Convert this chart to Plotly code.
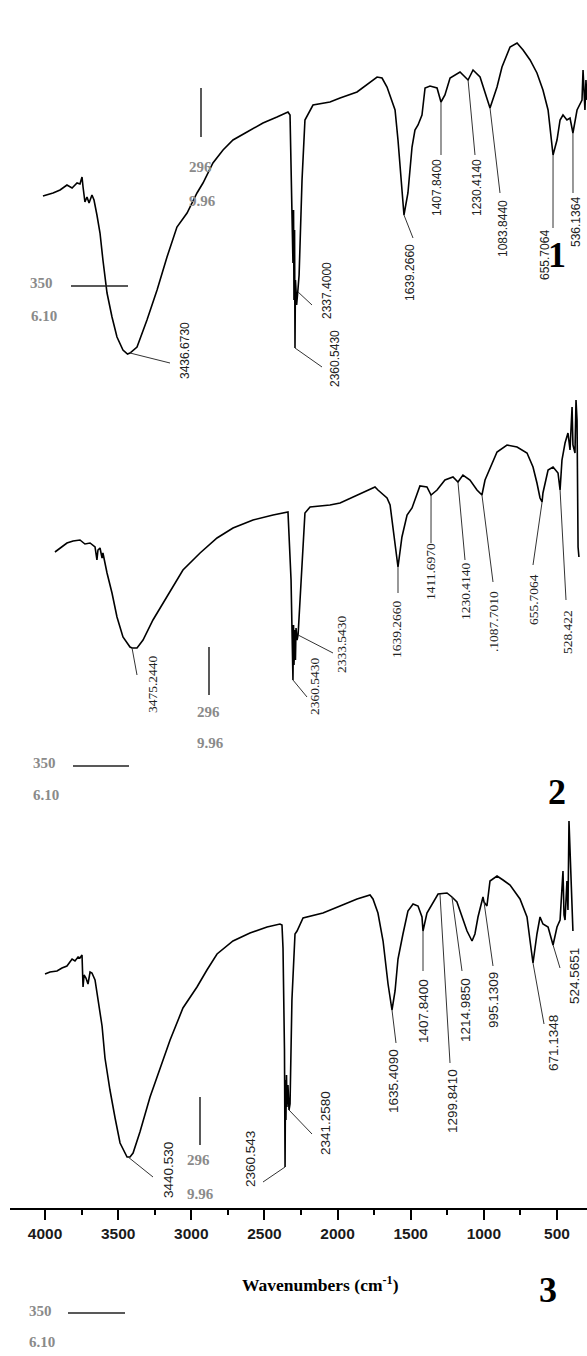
import plotly.graph_objects as go

# ---------------- data (wavenumber cm-1, transmittance a.u.) ----------------
s1_wn = [4014, 3945, 3897, 3850, 3815, 3781, 3761, 3747, 3740, 3727,
         3713, 3699, 3679, 3665, 3645, 3624, 3604, 3576, 3542, 3508,
         3467, 3436, 3419, 3371, 3303, 3234, 3166, 3098, 3029, 2961,
         2920, 2852, 2783, 2715, 2619, 2510, 2414, 2339, 2325, 2305,
         2301, 2298, 2294, 2291, 2288, 2284, 2280, 2277, 2270, 2263,
         2243, 2223, 2168, 2052, 1983, 1867, 1730, 1696, 1662, 1628,
         1607, 1587, 1560, 1546, 1519, 1491, 1471, 1450, 1423, 1402,
         1368, 1320, 1293, 1266, 1231, 1163, 1108, 1074, 1026, 979,
         958, 910, 876, 821, 773, 732, 684, 637, 596, 561,
         534, 527, 500, 479, 459, 432, 411, 391, 363, 343,
         329, 322, 315, 309, 302, 295]
s1_t = [204, 207, 210, 215, 212, 217, 216, 223, 213, 198,
        203, 197, 205, 200, 185, 167, 140, 107, 83, 63,
        50, 46, 47, 53, 80, 110, 143, 173, 187, 207,
        217, 237, 250, 260, 268, 277, 283, 288, 285, 137,
        190, 100, 170, 52, 120, 110, 95, 100, 112, 125,
        220, 280, 295, 298, 302, 308, 323, 322, 313, 300,
        290, 260, 213, 185, 207, 253, 270, 275, 285, 312,
        314, 312, 298, 305, 322, 328, 320, 330, 323, 300,
        292, 313, 333, 353, 357, 350, 340, 327, 310, 290,
        257, 245, 260, 280, 285, 280, 282, 267, 290, 297,
        300, 330, 305, 290, 320, 300]

s2_wn = [3932, 3897, 3850, 3808, 3761, 3727, 3692, 3658, 3645, 3638,
         3624, 3610, 3604, 3576, 3542, 3508, 3467, 3419, 3405, 3371,
         3330, 3262, 3166, 3057, 2940, 2824, 2715, 2578, 2441, 2346,
         2339, 2318, 2305, 2301, 2298, 2291, 2288, 2284, 2277, 2270,
         2250, 2223, 2188, 2052, 1983, 1867, 1744, 1724, 1662, 1641,
         1621, 1587, 1560, 1525, 1491, 1471, 1437, 1389, 1361, 1320,
         1266, 1211, 1177, 1143, 1095, 1047, 1013, 992, 958, 910,
         842, 773, 705, 664, 637, 616, 602, 596, 561, 527,
         493, 479, 466, 445, 425, 411, 397, 391, 377, 370,
         363, 356, 350]
s2_t = [248, 252, 257, 259, 260, 256, 257, 253, 240, 250,
        252, 242, 247, 227, 207, 183, 163, 153, 152, 152,
        160, 180, 203, 230, 247, 262, 272, 280, 285, 288,
        288, 220, 120, 175, 135, 170, 140, 172, 160, 165,
        220, 287, 293, 295, 297, 305, 313, 310, 302, 295,
        270, 233, 263, 285, 292, 300, 314, 313, 305, 310,
        320, 323, 318, 325, 320, 310, 305, 320, 332, 348,
        355, 353, 347, 333, 317, 302, 298, 307, 330, 333,
        327, 310, 340, 357, 367, 350, 393, 355, 347, 400,
        380, 253, 243]

s3_wn = [4000, 3966, 3918, 3884, 3850, 3829, 3815, 3795, 3774, 3761,
         3747, 3740, 3733, 3720, 3706, 3692, 3679, 3658, 3638, 3610,
         3590, 3556, 3521, 3487, 3439, 3419, 3398, 3351, 3282, 3214,
         3145, 3057, 2961, 2893, 2824, 2715, 2599, 2482, 2394, 2380,
         2373, 2363, 2359, 2356, 2353, 2349, 2346, 2339, 2332, 2325,
         2312, 2291, 2277, 2236, 2100, 1983, 1867, 1778, 1758, 1724,
         1689, 1655, 1628, 1607, 1587, 1553, 1519, 1484, 1450, 1423,
         1416, 1389, 1348, 1313, 1252, 1218, 1184, 1149, 1115, 1081,
         1061, 1040, 1006, 999, 979, 958, 910, 869, 821, 753,
         705, 684, 664, 637, 616, 596, 561, 527, 500, 479,
         459, 452, 445, 432, 425, 418, 411, 404, 391]
s3_t = [234, 236, 237, 240, 242, 246, 249, 247, 251, 250,
        253, 221, 233, 230, 224, 236, 235, 228, 210, 182,
        150, 118, 90, 65, 51, 51, 55, 76, 111, 139,
        168, 200, 221, 238, 254, 267, 275, 281, 284, 283,
        260, 158, 41, 128, 88, 133, 101, 123, 98, 104,
        208, 274, 277, 290, 295, 302, 309, 313, 309, 295,
        267, 224, 198, 217, 249, 274, 297, 304, 302, 291,
        277, 295, 306, 314, 315, 311, 306, 291, 277, 267,
        274, 291, 311, 306, 302, 327, 332, 328, 323, 309,
        291, 267, 245, 274, 291, 284, 281, 263, 281, 288,
        337, 293, 288, 327, 298, 387, 358, 327, 277]

# peak labels (text, wavenumber position on curve, curve value)
s1_labels = ["3436.6730", "2337.4000", "2360.5430", "1639.2660", "1407.8400",
             "1230.4140", "1083.8440", "655.7064", "536.1364"]
s1_peak_wn = [3419, 2270, 2291, 1546, 1293, 1108, 958, 527, 391]
s1_peak_t = [47, 108, 52, 185, 298, 320, 292, 245, 267]

s2_labels = ["3475.2440", "2360.5430", "2333.5430", "1639.2660", "1411.6970",
             "1230.4140", ".1087.7010", "655.7064", "528.422"]
s2_peak_wn = [3405, 2305, 2270, 1587, 1361, 1177, 1013, 602, 479]
s2_peak_t = [152, 120, 165, 233, 305, 318, 305, 298, 310]

s3_labels = ["3440.530", "2360.543", "2341.2580", "1635.4090", "1407.8400",
             "1299.8410", "1214.9850", "995.1309", "671.1348", "524.5651"]
s3_peak_wn = [3432, 2359, 2332, 1628, 1416, 1300, 1218, 999, 664, 527]
s3_peak_t = [51, 41, 98, 198, 277, 314, 311, 306, 245, 263]

x_ticks = [4000, 3500, 3000, 2500, 2000, 1500, 1000, 500]

# ---------------- layout (pixel positions of page elements) ----------------
W, H = 587, 1356
ML, MR, MT, MB = 10, 0, 0, 148
PW, PH = W - ML - MR, H - MT - MB
X_RANGE = [4239.3, 294.9]
Y_RANGE = [0, PH]
OFFSETS = [808, 408, 0]


def px_x(px):
    return X_RANGE[0] + (px - ML) / PW * (X_RANGE[1] - X_RANGE[0])


def py_y(py):
    return Y_RANGE[1] - (py - MT) / PH * (Y_RANGE[1] - Y_RANGE[0])


def paper_x(px):
    return (px - ML) / PW


def paper_y(py):
    return (MT + PH - py) / PH


# (text centre x, text centre y, leader end x, leader end y)
s1_pos = [(185, 351, 170, 363), (327, 291, 312, 305), (335, 359, 322, 367),
          (410, 273, 413, 238), (437, 188, 441, 155), (477, 188, 475, 155),
          (503, 229, 500, 193), (545, 255, 553, 228), (576, 222, 573, 193)]
s2_pos = [(152, 684, 137, 675), (314, 686, 307, 697), (342, 644, 333, 653),
          (396, 629, 398, 593), (430, 572, 431, 543), (465, 591, 465, 560),
          (493, 622, 493, 582), (533, 600, 533, 565), (567, 632, 566, 600)]
s3_pos = [(168, 1170, 153, 1177), (250, 1159, 263, 1182), (325, 1123, 312, 1134),
          (393, 1081, 396, 1043), (423, 1011, 423, 971), (452, 1101, 450, 1063),
          (465, 1010, 462, 971), (493, 1000, 493, 966), (553, 1043, 544, 1024),
          (574, 976, 560, 968)]

label_fonts = [dict(family="Liberation Sans, Arial", size=12, color="#222"),
               dict(family="Liberation Serif, Times New Roman", size=13.5, color="#222"),
               dict(family="Liberation Sans, Arial", size=13.5, color="#222")]

# stray grey marks per panel: vline (x, y0, y1), "296" pos, "9.96" pos, "350" pos,
# hline (x0, x1, y), "6.10" pos
stray = [((201, 88, 137), (200, 167), (202, 201), (41, 283), (71, 128, 286), (44, 316)),
         ((209, 647, 695), (208, 712), (210, 743), (44, 763), (73, 129, 766), (46, 795)),
         ((200, 1097, 1145), (198, 1160), (200, 1194), (40, 1311), (68, 125, 1313), (42, 1342))]
panel_numbers = [("1", 557, 255), ("2", 557, 792), ("3", 548, 1290)]

fig = go.Figure()
spectra = [(s1_wn, s1_t), (s2_wn, s2_t), (s3_wn, s3_t)]
for (wn, t), off in zip(spectra, OFFSETS):
    fig.add_trace(go.Scatter(x=wn, y=[v + off for v in t], mode="lines",
                             line=dict(color="black", width=1.6),
                             hoverinfo="skip", showlegend=False))

shapes = []
annotations = []
peaks = [(s1_labels, s1_peak_wn, s1_peak_t, s1_pos),
         (s2_labels, s2_peak_wn, s2_peak_t, s2_pos),
         (s3_labels, s3_peak_wn, s3_peak_t, s3_pos)]
for i, (labs, pw, pt, pos) in enumerate(peaks):
    off = OFFSETS[i]
    for lab, w, t, (tx, ty, lx, ly) in zip(labs, pw, pt, pos):
        shapes.append(dict(type="line", xref="x", yref="y", x0=w, y0=t + off,
                           x1=px_x(lx), y1=py_y(ly),
                           line=dict(color="#333", width=1)))
        annotations.append(dict(text=lab, xref="paper", yref="paper",
                                x=paper_x(tx), y=paper_y(ty), textangle=-90,
                                showarrow=False, xanchor="center", yanchor="middle",
                                font=label_fonts[i]))

grey_font = dict(family="Liberation Serif, Times New Roman", size=15, color="#8a8a8a")
for vl, p296, p996, p350, hl, p610 in stray:
    shapes.append(dict(type="line", xref="paper", yref="paper",
                       x0=paper_x(vl[0]), x1=paper_x(vl[0]),
                       y0=paper_y(vl[1]), y1=paper_y(vl[2]),
                       line=dict(color="#222", width=1.5)))
    shapes.append(dict(type="line", xref="paper", yref="paper",
                       x0=paper_x(hl[0]), x1=paper_x(hl[1]),
                       y0=paper_y(hl[2]), y1=paper_y(hl[2]),
                       line=dict(color="#222", width=1.5)))
    for txt, (px, py) in [("296", p296), ("9.96", p996), ("350", p350), ("6.10", p610)]:
        annotations.append(dict(text="<b>%s</b>" % txt, xref="paper", yref="paper",
                                x=paper_x(px), y=paper_y(py), showarrow=False,
                                xanchor="center", yanchor="middle", font=grey_font))

for txt, px, py in panel_numbers:
    annotations.append(dict(text="<b>%s</b>" % txt, xref="paper", yref="paper",
                            x=paper_x(px), y=paper_y(py), showarrow=False,
                            xanchor="center", yanchor="middle",
                            font=dict(family="Liberation Serif, Times New Roman",
                                      size=36, color="black")))

annotations.append(dict(text="<b>Wavenumbers (cm<sup>-1</sup>)</b>", xref="paper",
                        yref="paper", x=paper_x(320), y=paper_y(1284), showarrow=False,
                        xanchor="center", yanchor="middle",
                        font=dict(family="Liberation Serif, Times New Roman",
                                  size=17.5, color="black")))

fig.update_layout(
    width=W, height=H,
    margin=dict(l=ML, r=MR, t=MT, b=MB, pad=0),
    paper_bgcolor="white", plot_bgcolor="white",
    showlegend=False,
    shapes=shapes, annotations=annotations,
    xaxis=dict(range=X_RANGE, tickvals=x_ticks,
               ticktext=["<b>%d</b>" % v for v in x_ticks],
               showline=True, linecolor="black", linewidth=2,
               ticks="outside", ticklen=10, tickwidth=2, tickcolor="black",
               tickfont=dict(family="Liberation Sans, Arial", size=15.5, color="#1a1a1a"),
               minor=dict(dtick=250, tick0=0, ticks="outside", ticklen=5,
                          tickwidth=2, tickcolor="black", showgrid=False),
               showgrid=False, zeroline=False, fixedrange=True),
    yaxis=dict(range=Y_RANGE, visible=False, fixedrange=True),
)

fig.write_html("out.html", config={"displayModeBar": False},
               post_script="document.body.style.margin='0';"
                           "document.body.style.overflow='hidden';")
